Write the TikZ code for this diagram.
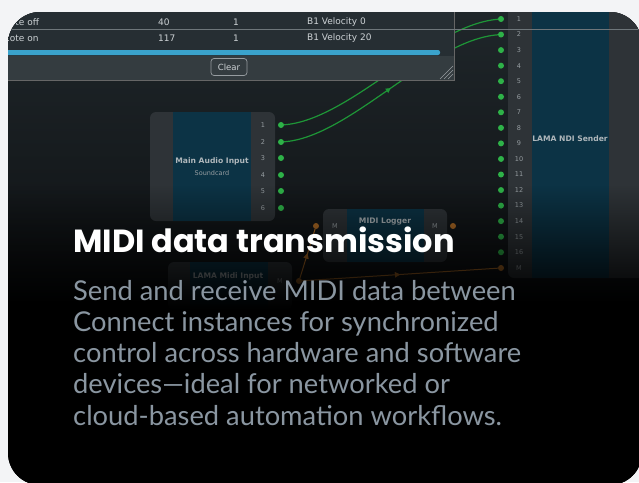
\documentclass[tikz,border=0pt]{standalone}
\usepackage{fontspec}
\setmainfont{Lato}
\newfontfamily\titlefont{Poppins}
\newfontfamily\uifont{DejaVu Sans}
\usetikzlibrary{fadings,decorations.markings,arrows.meta}

\definecolor{pagebg}{RGB}{243,244,246}
\definecolor{spacetop}{RGB}{31,38,42}
\definecolor{spacebot}{RGB}{14,17,19}
\definecolor{winbg}{RGB}{38,46,51}
\definecolor{winband}{RGB}{52,60,64}
\definecolor{rowline}{RGB}{110,118,122}
\definecolor{barblue}{RGB}{58,163,204}
\definecolor{rowgray}{RGB}{205,210,213}
\definecolor{btnborder}{RGB}{150,156,160}
\definecolor{blockgray}{RGB}{46,51,55}
\definecolor{blockblue}{RGB}{12,51,69}
\definecolor{portgreen}{RGB}{46,178,72}
\definecolor{wiregreen}{RGB}{30,150,55}
\definecolor{portorange}{RGB}{178,110,38}
\definecolor{numgray}{RGB}{150,157,161}
\definecolor{labelgray}{RGB}{175,183,187}
\definecolor{bodygray}{RGB}{138,150,161}

\tikzfading[name=fadedown, top color=transparent!100, middle color=transparent!70, bottom color=transparent!0]

\begin{document}
\begin{tikzpicture}
  [x=1pt,y=-1pt,
   portdot/.style={circle,fill=portgreen,inner sep=0pt,minimum size=6pt},
   mdot/.style={portdot,fill=portorange},
   portnum/.style={font=\uifont\fontsize{6.5}{7}\selectfont,text=numgray,inner sep=0pt},
   blocklabel/.style={font=\uifont\bfseries\fontsize{7.6}{9}\selectfont,text=labelgray,inner sep=0pt},
   sublabel/.style={font=\uifont\fontsize{6.5}{8}\selectfont,text=numgray,inner sep=0pt},
   rowtext/.style={font=\uifont\fontsize{9}{10}\selectfont,text=rowgray,anchor=west,inner sep=0pt},
   clearbtn/.style={draw=btnborder,fill=winband,rounded corners=3pt,line width=0.7pt,
     minimum width=36pt,minimum height=17pt,inner sep=0pt,
     font=\uifont\fontsize{8.5}{9}\selectfont,text=rowgray},
   greenwire/.style={draw=wiregreen,line width=1.2pt,postaction={decorate},
     decoration={markings,mark=at position 0.5 with {\arrow{Triangle[length=5pt,width=5pt]}}}},
   orangewire/.style={greenwire,draw=portorange,line width=1pt,
     decoration={markings,mark=at position 0.5 with {\arrow[portorange]{Triangle[length=5pt,width=5pt]}}}},
   titletext/.style={font=\titlefont\bfseries\fontsize{32}{38}\selectfont,text=white,inner sep=0pt},
   bodytext/.style={font=\fontsize{27.3}{31.3}\selectfont,text=bodygray,inner sep=0pt,align=left}]

  \useasboundingbox (0,0) rectangle (639,482);
  \fill[pagebg] (0,0) rectangle (639,482);
  \fill[black, rounded corners=32pt] (8,12) rectangle (642,485);

  \begin{scope}
    \clip[rounded corners=32pt] (8,12) rectangle (642,485);
    \shade[top color=spacetop, bottom color=spacebot] (0,12) rectangle (642,300);

    % blocks
    \fill[blockgray, rounded corners=6pt] (150,112) rectangle (275,221);
    \fill[blockblue] (173,112) rectangle (251,221);
    \fill[blockgray, rounded corners=6pt] (323,209) rectangle (447,262);
    \fill[blockblue] (347,209) rectangle (424,262);
    \fill[blockgray, rounded corners=6pt] (168,262) rectangle (292,310);
    \fill[blockblue] (190,262) rectangle (268,310);
    \fill[blockgray, rounded corners=6pt] (508,0) rectangle (650,278);
    \fill[blockblue] (532,0) rectangle (609,278);

    \node[blocklabel] (mai) at (212,161) {Main Audio Input};
    \node[sublabel] (card) at (212,173) {Soundcard};
    \node[blocklabel] (logger) at (385,222) {MIDI Logger};
    \node[blocklabel] (lmi) at (228,276) {LAMA Midi Input};
    \node[blocklabel] (ndi) at (570,139) {LAMA NDI Sender};

    % ports
    \foreach \i/\py in {1/125,2/142,3/158,4/175,5/191,6/208} {
      \node[portnum] at (263,\py) {\i};
      \node[portdot] (a\i) at (281,\py) {};
    }
    \foreach \i in {1,...,16} {
      \pgfmathsetmacro\py{19+15.55*(\i-1)}
      \node[portnum] at (519,\py) {\i};
      \node[portdot] (s\i) at (501,\py) {};
    }
    \node[portnum] at (519,268) {M};
    \node[portnum] at (335,226) {M};
    \node[portnum] at (435,226) {M};
    \node[portnum] at (280,281) {M};

    \draw[greenwire] (a1) .. controls (350,120) and (430,25) .. (s1);
    \draw[greenwire] (a2) .. controls (350,137) and (430,40) .. (s2);

    \node[mdot] (sM) at (501,268) {};
    \node[mdot] (lgi) at (316,226) {};
    \node[mdot] (lgo) at (453,226) {};
    \node[mdot] (lmo) at (299,281) {};
    \draw[orangewire] (lmo) -- (lgi);
    \draw[orangewire] (lmo) -- (sM);

    % log window
    \fill[winbg] (0,12) rectangle (454,56);
    \fill[winband] (0,56) rectangle (454,80);
    \draw[black!60, line width=1pt] (0,80.5) -- (454.5,80.5) -- (454.5,12);
    \fill[barblue, rounded corners=2pt] (0,50) rectangle (440,55);
    \draw[rowline, line width=0.5pt] (0,29) -- (642,29);
    \node[rowtext] (r1a) at (3,22) {Note off};
    \node[rowtext] (r1b) at (158,22) {40};
    \node[rowtext] (r1c) at (233,22) {1};
    \node[rowtext] (r1d) at (307,22) {B1 Velocity 0};
    \node[rowtext] (r2a) at (3,38) {Note on};
    \node[rowtext] (r2b) at (158,38) {117};
    \node[rowtext] (r2c) at (233,38) {1};
    \node[rowtext] (r2d) at (307,38) {B1 Velocity 20};
    \node[clearbtn] (clear) at (229,67) {Clear};
    \foreach \d in {0,4,8}
      \draw[btnborder, line width=0.6pt] (440+\d,79) -- (453,66+\d);

    % fade to black
    \fill[black, path fading=fadedown] (0,185) rectangle (642,310);
    \fill[black] (0,309) rectangle (642,490);
  \end{scope}

  \node[titletext, anchor=base west] (title) at (73,252) {MIDI data transmission};
  \node[bodytext, anchor=base west] (body) at (73,425.2)
    {Send and receive MIDI data between\\Connect instances for synchronized\\control across hardware and software\\devices\textemdash ideal for networked or\\cloud-based automation workflows.};
\end{tikzpicture}
\end{document}
